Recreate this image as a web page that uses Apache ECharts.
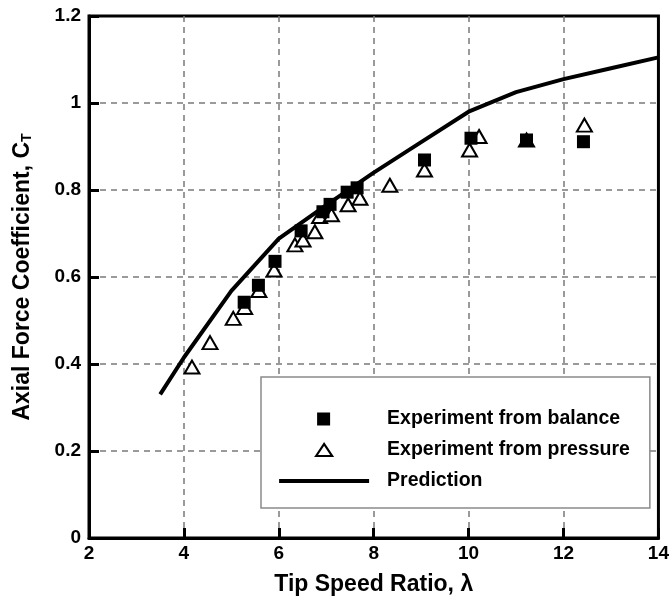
<!DOCTYPE html>
<html>
<head>
<meta charset="utf-8">
<script src="https://cdn.jsdelivr.net/npm/echarts@6/dist/echarts.min.js"></script>
<style>
  html, body { margin: 0; padding: 0; background: #fff; }
  #chart { width: 672px; height: 601px; }
</style>
</head>
<body>
<div id="chart"></div>
<script>
// experiment from balance (filled squares)
const balanceX = [5.27, 5.57, 5.92, 6.47, 6.93, 7.08, 7.44, 7.65, 9.07, 10.05, 11.22, 12.42];
const balanceY = [0.542, 0.581, 0.636, 0.706, 0.750, 0.767, 0.795, 0.805, 0.869, 0.919, 0.915, 0.911];

// experiment from pressure (open triangles)
const pressureX = [4.17, 4.55, 5.04, 5.28, 5.58, 5.9, 6.34, 6.51, 6.76, 6.86, 7.11, 7.46, 7.71, 8.34, 9.07, 10.02, 10.22, 11.22, 12.44];
const pressureY = [0.393, 0.449, 0.505, 0.530, 0.569, 0.616, 0.674, 0.685, 0.704, 0.739, 0.743, 0.766, 0.781, 0.811, 0.846, 0.892, 0.923, 0.915, 0.949];

// prediction curve
const predX = [3.5, 4, 5, 6, 7, 8, 9, 10, 11, 12, 13, 14];
const predY = [0.33, 0.415, 0.568, 0.688, 0.765, 0.84, 0.91, 0.98, 1.025, 1.055, 1.08, 1.105];

const FONT = "'Liberation Sans', Arial, sans-serif";

const pairs = (xs, ys) => xs.map((x, i) => [x, ys[i]]);

// legend icons: the leading moves pin the 90x13 frame so shapes are not stretched
const ICON_SQUARE = "path://M0,0M90,13M38,0H51V13H38Z";
const ICON_TRIANGLE = "path://M0,0M90,13M37,12.5L45,0.5L53,12.5Z";
const ICON_LINE = "path://M0,0M90,13M0,4.5H90V8.5H0Z";

const chart = echarts.init(document.getElementById("chart"));

const splitLine = {
  show: true,
  showMinLine: false,
  showMaxLine: false,
  lineStyle: { color: "#7a7a7a", width: 1.5, type: [6, 5] },
};

chart.setOption({
  animation: false,
  textStyle: { fontFamily: FONT },
  grid: {
    left: 89,
    right: 13,
    top: 16,
    bottom: 63,
    show: true,
    borderColor: "#000",
    borderWidth: 3,
    backgroundColor: "transparent",
  },
  legend: {
    data: [
      { name: "Experiment from balance", icon: ICON_SQUARE, itemStyle: { color: "#000", borderWidth: 0 } },
      { name: "Experiment from pressure", icon: ICON_TRIANGLE, itemStyle: { color: "#fff", borderColor: "#000", borderWidth: 2.2 } },
      { name: "Prediction", icon: ICON_LINE, itemStyle: { color: "#000", borderWidth: 0 } },
    ],
    orient: "vertical",
    left: 261,
    top: 377,
    itemWidth: 90,
    itemHeight: 13,
    itemGap: 11,
    padding: [32, 20, 17, 17],
    backgroundColor: "#fff",
    borderColor: "#8a8a8a",
    borderWidth: 1.5,
    borderRadius: 0,
    selectedMode: false,
    textStyle: {
      fontFamily: FONT,
      fontSize: 19.5,
      fontWeight: "bold",
      color: "#000",
      lineHeight: 20,
      padding: [0, 0, 0, 13],
    },
  },
  xAxis: {
    type: "value",
    min: 2,
    max: 14,
    interval: 2,
    name: "Tip Speed Ratio, λ",
    nameLocation: "middle",
    nameGap: 35,
    nameTextStyle: { fontFamily: FONT, fontSize: 23, fontWeight: "bold", color: "#000" },
    axisLine: { show: true, lineStyle: { color: "#000", width: 3 } },
    axisTick: { show: true, inside: true, length: 10, lineStyle: { color: "#000", width: 3 } },
    axisLabel: { margin: 6, fontFamily: FONT, fontSize: 19, fontWeight: "bold", color: "#000" },
    splitLine: splitLine,
  },
  yAxis: {
    type: "value",
    min: 0,
    max: 1.2,
    interval: 0.2,
    name: "{a|Axial Force Coefficient, C}{b|T}",
    nameLocation: "middle",
    nameGap: 55,
    nameTextStyle: {
      rich: {
        a: { fontFamily: FONT, fontSize: 23, fontWeight: "bold", color: "#000", lineHeight: 28, verticalAlign: "bottom" },
        b: { fontFamily: FONT, fontSize: 14, fontWeight: "bold", color: "#000", lineHeight: 14, verticalAlign: "bottom" },
      },
    },
    axisLine: { show: true, lineStyle: { color: "#000", width: 3 } },
    axisTick: { show: true, inside: true, length: 10, lineStyle: { color: "#000", width: 3 } },
    axisLabel: { margin: 8, fontFamily: FONT, fontSize: 19, fontWeight: "bold", color: "#000" },
    splitLine: splitLine,
  },
  series: [
    {
      name: "Experiment from pressure",
      type: "scatter",
      symbol: "triangle",
      symbolSize: [15, 13],
      z: 3,
      itemStyle: { color: "#fff", borderColor: "#000", borderWidth: 2, opacity: 1 },
      data: pairs(pressureX, pressureY),
    },
    {
      name: "Experiment from balance",
      type: "scatter",
      symbol: "rect",
      symbolSize: 13,
      z: 4,
      itemStyle: { color: "#000", opacity: 1 },
      data: pairs(balanceX, balanceY),
    },
    {
      name: "Prediction",
      type: "line",
      symbol: "none",
      z: 5,
      itemStyle: { color: "#000" },
      lineStyle: { color: "#000", width: 4 },
      data: pairs(predX, predY),
    },
  ],
});
</script>
</body>
</html>
